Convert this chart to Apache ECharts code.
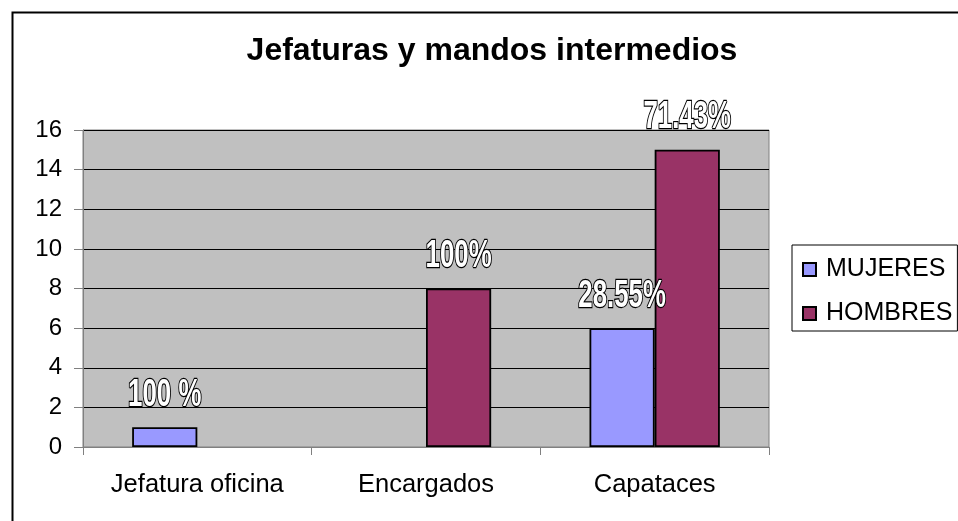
<!DOCTYPE html>
<html>
<head>
<meta charset="utf-8">
<script src="https://cdn.jsdelivr.net/npm/echarts@6/dist/echarts.min.js"></script>
<style>
  html, body { margin: 0; padding: 0; background: #fff; }
  #chart { width: 958px; height: 521px; }
</style>
</head>
<body>
<div id="chart"></div>
<script>
"use strict";
// data
const categories = ["Jefatura oficina", "Encargados", "Capataces"];
const mujeres = [1, 0, 6];
const hombres = [0, 8, 15];
const mujeresLabels = ["100 %", "", "28.55%"];
const hombresLabels = ["", "100%", "71.43%"];
const yTicks = { min: 0, max: 16, interval: 2 };

const FONT = "'Liberation Sans', Arial, sans-serif";
const GAP = 0.43; // barCategoryGap as a fraction

// zero values draw nothing in the reference, so skip them
const toData = (vals) => vals.map((v) => (v === 0 ? "-" : v));

/* the percent labels are tall, narrow outlined text (Arial Narrow look):
   drawn by a custom series so the glyphs can be squeezed horizontally */
const labelPoints = [];
[[mujeres, mujeresLabels, -1], [hombres, hombresLabels, 1]].forEach(([vals, labels, side]) =>
  labels.forEach((t, i) => { if (t) labelPoints.push({ cat: i, value: vals[i], text: t, side }); }));

function renderLabel(params, api) {
  const p = labelPoints[params.dataIndex];
  const c = api.coord([api.value(0), api.value(1)]);
  const catW = api.size([1, 0])[0];
  const barW = catW * (1 - GAP) / 2;
  return {
    type: "text",
    x: c[0] + p.side * barW / 2, y: c[1] - 13,
    scaleX: 0.68,
    style: {
      text: p.text, align: "center", verticalAlign: "bottom",
      font: "bold 38px " + FONT,
      fill: "#fff", stroke: "#000", lineWidth: 2.5
    }
  };
}

const chart = echarts.init(document.getElementById("chart"), null, { renderer: "canvas" });
chart.setOption({
  animation: false,
  backgroundColor: "#fff",
  title: {
    text: "Jefaturas y mandos intermedios", left: 487, top: 30, textAlign: "center",
    textStyle: { fontFamily: FONT, fontWeight: "bold", fontSize: 32, color: "#000" }
  },
  graphic: [{
    type: "rect", left: 10, top: 10,
    shape: { width: 960, height: 530 },
    style: { fill: null, stroke: "#000", lineWidth: 2 }, silent: true
  }],
  legend: {
    orient: "vertical", left: 792, top: 245,
    padding: [12, 5, 5, 10], itemGap: 19,
    borderColor: "#000", borderWidth: 1, backgroundColor: "#fff",
    icon: "rect", itemWidth: 13, itemHeight: 13,
    textStyle: { fontFamily: FONT, fontSize: 25, color: "#000", padding: [0, 0, 0, 5] },
    data: ["MUJERES", "HOMBRES"]
  },
  grid: {
    left: 83, top: 130, right: 189, bottom: 74,
    show: true, backgroundColor: "#C0C0C0", borderColor: "#808080", borderWidth: 1
  },
  xAxis: {
    type: "category", data: categories,
    axisLine: { lineStyle: { color: "#808080", width: 1 } },
    axisTick: { show: true, length: 8, lineStyle: { color: "#808080" } },
    axisLabel: { fontFamily: FONT, fontSize: 25.5, color: "#000", margin: 25 }
  },
  yAxis: {
    type: "value", min: yTicks.min, max: yTicks.max, interval: yTicks.interval,
    axisLine: { show: true, lineStyle: { color: "#808080", width: 1 } },
    axisTick: { show: true, length: 9, lineStyle: { color: "#808080" } },
    axisLabel: { fontFamily: FONT, fontSize: 24, color: "#000", margin: 21 },
    splitLine: { show: true, lineStyle: { color: "#000", width: 1 } }
  },
  series: [
    {
      name: "MUJERES", type: "bar", data: toData(mujeres),
      barGap: "0%", barCategoryGap: GAP * 100 + "%",
      itemStyle: { color: "#9999FF", borderColor: "#000", borderWidth: 1.8 }
    },
    {
      name: "HOMBRES", type: "bar", data: toData(hombres),
      barGap: "0%", barCategoryGap: GAP * 100 + "%",
      itemStyle: { color: "#993366", borderColor: "#000", borderWidth: 1.8 }
    },
    {
      name: "etiquetas", type: "custom", silent: true, z: 10,
      data: labelPoints.map((p) => [p.cat, p.value]),
      renderItem: renderLabel
    }
  ]
});
</script>
</body>
</html>
